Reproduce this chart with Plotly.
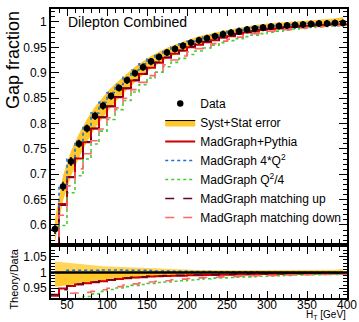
import plotly.graph_objects as go
from plotly.subplots import make_subplots

# ---------------- data ----------------
bin_edges = list(range(30, 410, 10))          # 30 ... 400 GeV
bin_centers = [e + 5 for e in bin_edges[:-1]]  # 35 ... 395 GeV

data_gap = [0.592, 0.676, 0.725, 0.760, 0.790, 0.815, 0.835, 0.854, 0.870, 0.885,
            0.899, 0.911, 0.922, 0.931, 0.940, 0.947, 0.953, 0.959, 0.964, 0.968,
            0.972, 0.976, 0.979, 0.982, 0.985, 0.987, 0.989, 0.991, 0.992, 0.993,
            0.994, 0.995, 0.996, 0.997, 0.997, 0.998, 0.998]
data_err = [0.010, 0.009, 0.009, 0.008, 0.008, 0.008, 0.008, 0.007, 0.007, 0.007,
            0.007, 0.007, 0.007, 0.007, 0.007, 0.007, 0.007, 0.007, 0.007, 0.007,
            0.007, 0.007, 0.007, 0.007, 0.007, 0.007, 0.007, 0.007, 0.007, 0.007,
            0.007, 0.007, 0.007, 0.007, 0.007, 0.007, 0.007]

# Syst+Stat band, relative to data (Theory/Data panel)
band_up = [1.035, 1.032, 1.029, 1.026, 1.024, 1.022, 1.020, 1.019, 1.017, 1.016,
           1.014, 1.013, 1.012, 1.011, 1.010, 1.009, 1.009, 1.008, 1.008, 1.008,
           1.007, 1.007, 1.007, 1.007, 1.007, 1.007, 1.007, 1.007, 1.007, 1.007,
           1.007, 1.007, 1.008, 1.008, 1.008, 1.009, 1.012]
band_dn = [0.955, 0.958, 0.961, 0.964, 0.967, 0.970, 0.972, 0.975, 0.977, 0.979,
           0.981, 0.983, 0.985, 0.986, 0.988, 0.989, 0.990, 0.991, 0.992, 0.992,
           0.993, 0.993, 0.994, 0.994, 0.995, 0.995, 0.995, 0.996, 0.996, 0.996,
           0.996, 0.996, 0.996, 0.996, 0.996, 0.996, 0.996]

# Theory/Data ratios per bin
r_pythia = [0.926, 0.949, 0.957, 0.962, 0.966, 0.969, 0.972, 0.976, 0.979, 0.982,
            0.984, 0.985, 0.987, 0.988, 0.989, 0.990, 0.990, 0.991, 0.991, 0.992,
            0.992, 0.993, 0.993, 0.994, 0.994, 0.994, 0.995, 0.995, 0.995, 0.996,
            0.996, 0.996, 0.996, 0.997, 0.997, 0.997, 0.997]
r_q2up = [0.998, 1.000, 1.007, 1.007, 1.007, 1.007, 1.008, 1.008, 1.008, 1.007,
          1.007, 1.007, 1.006, 1.005, 1.005, 1.004, 1.004, 1.003, 1.003, 1.003,
          1.002, 1.002, 1.002, 1.002, 1.002, 1.002, 1.001, 1.001, 1.001, 1.001,
          1.001, 1.001, 1.001, 1.001, 1.001, 1.001, 1.001]
r_q2dn = [0.850, 0.886, 0.915, 0.917, 0.924, 0.932, 0.940, 0.946, 0.951, 0.955,
          0.959, 0.962, 0.965, 0.968, 0.970, 0.972, 0.974, 0.976, 0.978, 0.980,
          0.982, 0.983, 0.984, 0.985, 0.986, 0.987, 0.988, 0.989, 0.990, 0.991,
          0.992, 0.992, 0.993, 0.993, 0.994, 0.994, 0.995]
r_mup = [0.930, 0.945, 0.958, 0.963, 0.967, 0.970, 0.973, 0.977, 0.980, 0.983,
         0.985, 0.986, 0.988, 0.989, 0.990, 0.991, 0.991, 0.992, 0.992, 0.993,
         0.993, 0.994, 0.994, 0.995, 0.995, 0.995, 0.996, 0.996, 0.996, 0.997,
         0.997, 0.997, 0.997, 0.998, 0.998, 0.998, 0.998]
r_mdn = [0.880, 0.916, 0.934, 0.935, 0.937, 0.940, 0.945, 0.950, 0.955, 0.960,
         0.964, 0.967, 0.970, 0.972, 0.974, 0.977, 0.979, 0.981, 0.983, 0.984,
         0.985, 0.986, 0.987, 0.988, 0.989, 0.990, 0.990, 0.991, 0.991, 0.992,
         0.992, 0.993, 0.993, 0.994, 0.994, 0.995, 0.995]

models = [
    ("MadGraph+Pythia", r_pythia, "#CC0000", "solid", 2.0),
    ("MadGraph 4*Q<sup>2</sup>", r_q2up, "#1F6FD0", "dot", 1.6),
    ("MadGraph Q<sup>2</sup>/4", r_q2dn, "#44CC33", "dot", 1.6),
    ("MadGraph matching up", r_mup, "#660033", "dash", 1.6),
    ("MadGraph matching down", r_mdn, "#FF6666", "dash", 1.6),
]

BAND = "#FFC72C"
BAND_LIGHT = "#FFD55A"
FONT = "Liberation Sans, Arial, sans-serif"

fig = make_subplots(rows=2, cols=1, shared_xaxes=False, vertical_spacing=0.0)

# ---- main panel ----
up_abs = [d * u for d, u in zip(data_gap, band_up)]
dn_abs = [d * l for d, l in zip(data_gap, band_dn)]
fig.add_trace(go.Scatter(x=bin_centers + bin_centers[::-1], y=up_abs + dn_abs[::-1],
                         fill="toself", fillcolor=BAND, line=dict(width=0),
                         mode="lines", showlegend=False, hoverinfo="skip"), row=1, col=1)

step_x = list(bin_edges)
for rank, (name, ratio, color, dash, w) in enumerate(models):
    vals = [d * r for d, r in zip(data_gap, ratio)]
    fig.add_trace(go.Scatter(x=step_x, y=vals + [vals[-1]], mode="lines", line_shape="hv",
                             line=dict(color=color, dash=dash, width=w), name=name,
                             legendrank=3 + rank), row=1, col=1)

fig.add_trace(go.Scatter(x=bin_centers, y=data_gap, mode="markers", name="Data",
                         marker=dict(color="black", size=6.5),
                         error_y=dict(type="data", array=data_err, color="black",
                                      thickness=1.5, width=0),
                         legendrank=1), row=1, col=1)

# legend entry for the band
fig.add_trace(go.Scatter(x=[None], y=[None], mode="lines", fill="toself", fillcolor=BAND,
                         line=dict(color="black", width=1), name="Syst+Stat error",
                         legendrank=2), row=1, col=1)

# ---- ratio panel ----
ones = [1.0] * len(bin_centers)
fig.add_trace(go.Scatter(x=bin_centers + bin_centers[::-1], y=band_up + ones[::-1],
                         fill="toself", fillcolor=BAND_LIGHT, line=dict(width=0),
                         mode="lines", showlegend=False, hoverinfo="skip"), row=2, col=1)
fig.add_trace(go.Scatter(x=bin_centers + bin_centers[::-1], y=ones + band_dn[::-1],
                         fill="toself", fillcolor=BAND, line=dict(width=0),
                         mode="lines", showlegend=False, hoverinfo="skip"), row=2, col=1)
for name, ratio, color, dash, w in models:
    fig.add_trace(go.Scatter(x=step_x, y=ratio + [ratio[-1]], mode="lines", line_shape="hv",
                             line=dict(color=color, dash=dash, width=w), showlegend=False),
                  row=2, col=1)
fig.add_hline(y=1.0, line_color="black", line_width=2.5, row=2, col=1)

# ---- axes ----
axis_common = dict(showline=True, linecolor="black", linewidth=2, mirror="allticks",
                   ticks="inside", tickcolor="black", showgrid=False, zeroline=False,
                   automargin=False,
                   tickfont=dict(family=FONT, size=12, color="black"))
fig.update_xaxes(range=[30, 400], dtick=50, tick0=0, ticklen=7, tickwidth=1,
                 minor=dict(ticks="inside", ticklen=4, dtick=10, tick0=0, tickcolor="black"),
                 **axis_common)
fig.update_xaxes(showticklabels=False, row=1, col=1)
fig.update_xaxes(ticklabelstandoff=-5, row=2, col=1)
fig.update_yaxes(range=[0.5645, 1.0256], dtick=0.05, tick0=0, ticklen=8, tickwidth=1,
                 minor=dict(ticks="inside", ticklen=4, dtick=0.01, tick0=0, tickcolor="black"),
                 domain=[55 / 289, 1.0], row=1, col=1, **axis_common)
fig.update_yaxes(range=[0.919, 1.081], dtick=0.05, tick0=0, ticklen=8, tickwidth=1,
                 minor=dict(ticks="inside", ticklen=4, dtick=0.01, tick0=0, tickcolor="black"),
                 domain=[0.0, 51 / 289], row=2, col=1, **axis_common)

# ---- texts ----
fig.add_annotation(text="Dilepton Combined", xref="paper", yref="paper", x=0.05, y=0.955,
                   xanchor="left", yanchor="middle", showarrow=False,
                   font=dict(family=FONT, size=14, color="black"))
fig.add_annotation(text="Gap fraction", xref="paper", yref="paper", x=-0.128, y=1.0,
                   xanchor="center", yanchor="top", textangle=-90, showarrow=False,
                   font=dict(family=FONT, size=18, color="black"))
fig.add_annotation(text="Theory/Data", xref="paper", yref="paper", x=-0.128, y=51 / 289,
                   xanchor="center", yanchor="top", textangle=-90, showarrow=False,
                   font=dict(family=FONT, size=11, color="black"))
fig.add_annotation(text="H<sub>T</sub> [GeV]", xref="paper", yref="paper", x=1.0, y=-0.035,
                   xanchor="right", yanchor="top", showarrow=False, borderpad=0,
                   font=dict(family=FONT, size=10, color="black"))

fig.update_layout(
    width=359, height=322,
    margin=dict(l=51, r=12, t=9, b=24, autoexpand=False),
    paper_bgcolor="white", plot_bgcolor="white",
    font=dict(family=FONT, size=12, color="black"),
    legend=dict(x=0.369, y=0.723, xanchor="left", yanchor="top",
                bgcolor="rgba(0,0,0,0)", borderwidth=0,
                font=dict(family=FONT, size=12, color="black"),
                tracegroupgap=0, itemwidth=30),
)

fig.write_html("out.html", config={"displayModeBar": False},
               post_script="document.body.style.margin='0px';")
